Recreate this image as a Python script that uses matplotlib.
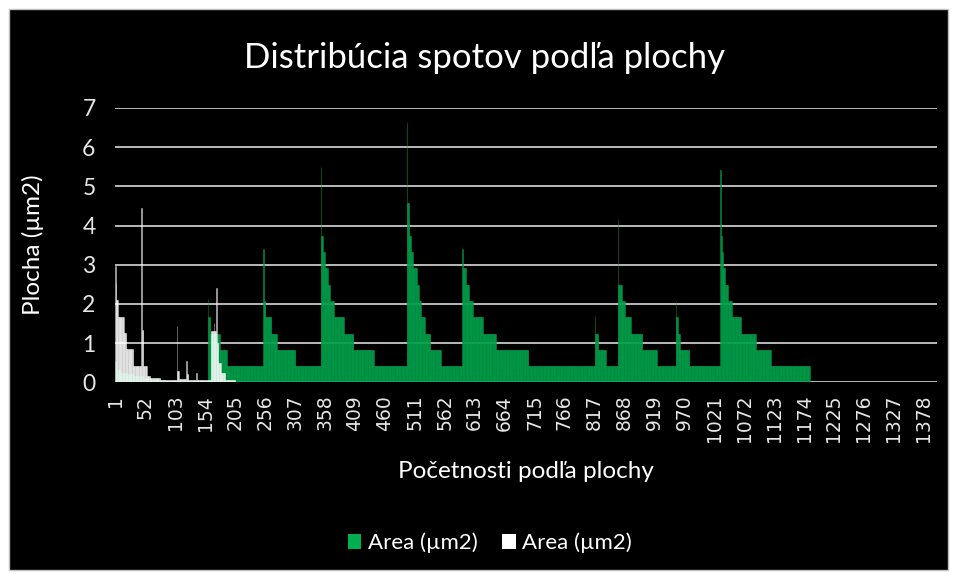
"""
Distribúcia spotov podľa plochy - stĺpcový graf na čiernom pozadí
"""
import numpy as np
import matplotlib
matplotlib.use('Agg')
import matplotlib.pyplot as plt
from matplotlib.patches import Patch, Rectangle

# počet kategórií na osi x
n_cats = 1400

# zelená séria: hodnoty a dĺžky úsekov (počet po sebe idúcich kategórií)
green_vals = [0.55, 0.32, 0.24, 0.20, 0.16, 0.12, 0.07, 0.03,
              2.12, 1.66, 1.245, 0.83, 0.415,
              3.39, 2.075, 1.66, 1.245, 0.83, 0.415,
              5.49, 3.735, 3.32, 2.905, 2.49, 2.075, 1.66, 1.245, 0.83, 0.415,
              6.65, 4.565, 4.15, 3.735, 3.32, 2.905, 2.49, 2.075, 1.66, 1.245, 0.83, 0.415,
              3.39, 2.905, 2.49, 2.075, 1.66, 1.245, 0.83, 0.415,
              1.70, 1.245, 0.83, 0.415,
              4.16, 2.49, 2.075, 1.66, 1.245, 0.83, 0.415,
              2.08, 1.66, 1.245, 0.83, 0.415,
              5.42, 3.735, 3.32, 2.905, 2.49, 2.075, 1.66, 1.245, 0.83, 0.415]
green_runs = [2, 6, 12, 11, 17, 12, 25, 73,
              1, 3, 16, 12, 62,
              1, 3, 10, 10, 31, 43,
              1, 3, 3, 5, 4, 7, 17, 16, 35, 56,
              1, 2, 1, 3, 3, 7, 3, 4, 7, 9, 18, 36,
              1, 5, 6, 6, 17, 23, 55, 113,
              1, 5, 13, 20,
              1, 6, 5, 10, 20, 25, 32,
              1, 3, 3, 16, 53,
              1, 1, 2, 4, 5, 6, 16, 25, 26, 66]

# biela séria
white_vals = [2.98, 2.53, 2.09, 1.67, 1.26, 0.85, 0.42, 4.45, 1.33, 0.42,
              0.17, 0.12, 0.05, 1.43, 0.30, 0.08, 0.55, 0.20, 0.06, 0.25,
              0.05, 1.30, 1.52, 1.30, 2.40, 1.00, 0.50, 0.25, 0.05]
white_runs = [1, 1, 3, 10, 4, 12, 14, 1, 2, 6,
              6, 17, 28, 1, 3, 12, 1, 3, 13, 1,
              24, 5, 1, 3, 1, 3, 4, 8, 17]

series_label = 'Area (µm2)'
title = 'Distribúcia spotov podľa plochy'
x_label = 'Početnosti podľa plochy'
y_label = 'Plocha (µm2)'


def expand(vals, runs, n):
    """rozbalí úseky na hodnoty pre každú kategóriu"""
    out = np.zeros(n)
    v = np.repeat(vals, runs)
    out[:len(v)] = v
    return out


green = expand(green_vals, green_runs, n_cats)
white = expand(white_vals, white_runs, n_cats)
cats = np.arange(1, n_cats + 1)

font = ['Lato', 'DejaVu Sans']
W, H = 954, 574
fig = plt.figure(figsize=(W / 100, H / 100), dpi=100, facecolor='white')

# čierna plocha grafu
fig.patches.append(Rectangle((9 / W, 4 / H), 939 / W, 561 / H, transform=fig.transFigure,
                             facecolor='black', edgecolor='#bfbfbf', linewidth=1, zorder=-5))

ax = fig.add_axes([115 / W, 1 - 382.3 / H, 822 / W, 274.3 / H])
ax.set_facecolor('none')
ax.set_zorder(2)

# tenký okraj, aby boli viditeľné aj jednotlivé úzke stĺpce
ax.bar(cats, green, width=1.0, color='#00a04a', edgecolor='#00a04a',
       alpha=0.8, linewidth=0.4)
ax.bar(cats, white, width=1.0, color='white', edgecolor='white',
       alpha=0.66, linewidth=0.4)

ax.set_xlim(0.5, n_cats + 0.5)
ax.set_ylim(0, 7)
ax.set_yticks(range(0, 8))
ax.set_yticklabels([str(i) for i in range(0, 8)], family=font, fontsize=16.5, color='#e6e6e6')
ticks = list(range(1, n_cats + 1, 51))
ax.set_xticks(ticks)
ax.set_xticklabels([str(t) for t in ticks], rotation=90, family='DejaVu Sans',
                   fontsize=13.5, color='#e6e6e6')
ax.tick_params(length=0)
ax.tick_params(axis='y', pad=14)
ax.tick_params(axis='x', pad=9)
for s in ax.spines.values():
    s.set_visible(False)
ax.yaxis.grid(True, color='#d9d9d9', linewidth=1.2)
ax.set_axisbelow(True)

fig.text(485 / W, 1 - 58 / H, title, ha='center', va='center', color='white',
         fontsize=25, family=font)
fig.text(33 / W, 1 - 245 / H, y_label, ha='center', va='center', rotation=90,
         color='white', fontsize=17.5, family=font)
fig.text(526 / W, 1 - 471 / H, x_label, ha='center', va='center', color='white',
         fontsize=17.5, family=font)

handles = [Patch(facecolor='#00b050', edgecolor='none', label=series_label),
           Patch(facecolor='white', edgecolor='none', label=series_label)]
fig.legend(handles=handles, loc='center', bbox_to_anchor=(490 / W, 1 - 543 / H), ncol=2,
           frameon=False, handlelength=0.6, handleheight=0.6, handletextpad=0.3,
           columnspacing=1.1, labelcolor='white', prop={'family': font, 'size': 16})

fig.savefig('out.png', dpi=100, facecolor='white')
